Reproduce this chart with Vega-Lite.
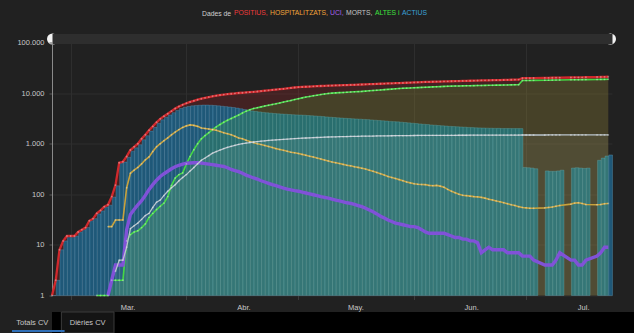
{
  "$schema": "https://vega.github.io/schema/vega-lite/v6.json",
  "background": "#212121",
  "padding": {"left": 12, "top": 9.5, "right": 0, "bottom": 0},
  "config": {
    "font": "Liberation Sans",
    "view": {"stroke": null},
    "axis": {"labelFont": "Liberation Sans"},
    "legend": {"labelFont": "Liberation Sans", "titleFont": "Liberation Sans"}
  },
  "bounds": "flush",
  "spacing": 16.5,
  "datasets": {
    "cv": [
      {"d":"2020-02-25","POSITIUS":1,"ACTIUS":1},
      {"d":"2020-02-26","POSITIUS":2,"ACTIUS":2},
      {"d":"2020-02-27","POSITIUS":8,"ACTIUS":8},
      {"d":"2020-02-28","POSITIUS":12,"ACTIUS":12},
      {"d":"2020-02-29","POSITIUS":15,"ACTIUS":15},
      {"d":"2020-03-01","POSITIUS":15,"ACTIUS":15},
      {"d":"2020-03-02","POSITIUS":15,"ACTIUS":15},
      {"d":"2020-03-03","POSITIUS":18,"ACTIUS":18},
      {"d":"2020-03-04","POSITIUS":20,"ACTIUS":20},
      {"d":"2020-03-05","POSITIUS":22,"ACTIUS":22},
      {"d":"2020-03-06","POSITIUS":30,"ACTIUS":30},
      {"d":"2020-03-07","POSITIUS":33,"ACTIUS":33},
      {"d":"2020-03-08","POSITIUS":42,"ALTES":1,"ACTIUS":41},
      {"d":"2020-03-09","POSITIUS":48,"ALTES":1,"ACTIUS":47},
      {"d":"2020-03-10","POSITIUS":57,"ALTES":1,"ACTIUS":56},
      {"d":"2020-03-11","POSITIUS":62,"HOSPITALITZATS":23,"UCI":1,"ALTES":1,"ACTIUS":61},
      {"d":"2020-03-12","POSITIUS":90,"HOSPITALITZATS":23,"UCI":2,"ALTES":2,"ACTIUS":88},
      {"d":"2020-03-13","POSITIUS":152,"HOSPITALITZATS":31,"UCI":4,"MORTS":3,"ALTES":2,"ACTIUS":147},
      {"d":"2020-03-14","POSITIUS":420,"HOSPITALITZATS":31,"UCI":4,"MORTS":5,"ALTES":2,"ACTIUS":413},
      {"d":"2020-03-15","POSITIUS":440,"HOSPITALITZATS":31,"UCI":4,"MORTS":5,"ALTES":2,"ACTIUS":433},
      {"d":"2020-03-16","POSITIUS":560,"HOSPITALITZATS":135,"UCI":20,"MORTS":9,"ALTES":12,"ACTIUS":539},
      {"d":"2020-03-17","POSITIUS":750,"HOSPITALITZATS":260,"UCI":40,"MORTS":21,"ALTES":16,"ACTIUS":713},
      {"d":"2020-03-18","POSITIUS":870,"HOSPITALITZATS":300,"UCI":50,"MORTS":24,"ALTES":18,"ACTIUS":828},
      {"d":"2020-03-19","POSITIUS":1000,"HOSPITALITZATS":340,"UCI":62,"MORTS":27,"ALTES":19,"ACTIUS":954},
      {"d":"2020-03-20","POSITIUS":1250,"HOSPITALITZATS":400,"UCI":75,"MORTS":32,"ALTES":22,"ACTIUS":1196},
      {"d":"2020-03-21","POSITIUS":1500,"HOSPITALITZATS":480,"UCI":95,"MORTS":38,"ALTES":26,"ACTIUS":1436},
      {"d":"2020-03-22","POSITIUS":1850,"HOSPITALITZATS":550,"UCI":125,"MORTS":42,"ALTES":35,"ACTIUS":1773},
      {"d":"2020-03-23","POSITIUS":2200,"HOSPITALITZATS":700,"UCI":155,"MORTS":55,"ALTES":42,"ACTIUS":2103},
      {"d":"2020-03-24","POSITIUS":2650,"HOSPITALITZATS":870,"UCI":190,"MORTS":70,"ALTES":50,"ACTIUS":2530},
      {"d":"2020-03-25","POSITIUS":3100,"HOSPITALITZATS":1000,"UCI":225,"MORTS":77,"ALTES":58,"ACTIUS":2965},
      {"d":"2020-03-26","POSITIUS":3500,"HOSPITALITZATS":1150,"UCI":255,"MORTS":95,"ALTES":67,"ACTIUS":3338},
      {"d":"2020-03-27","POSITIUS":3900,"HOSPITALITZATS":1300,"UCI":285,"MORTS":115,"ALTES":90,"ACTIUS":3700},
      {"d":"2020-03-28","POSITIUS":4400,"HOSPITALITZATS":1500,"UCI":320,"MORTS":135,"ALTES":150,"ACTIUS":4100},
      {"d":"2020-03-29","POSITIUS":4950,"HOSPITALITZATS":1700,"UCI":350,"MORTS":155,"ALTES":210,"ACTIUS":4550},
      {"d":"2020-03-30","POSITIUS":5450,"HOSPITALITZATS":1900,"UCI":375,"MORTS":185,"ALTES":245,"ACTIUS":4950},
      {"d":"2020-03-31","POSITIUS":5900,"HOSPITALITZATS":2100,"UCI":395,"MORTS":215,"ALTES":265,"ACTIUS":5250},
      {"d":"2020-04-01","POSITIUS":6300,"HOSPITALITZATS":2250,"UCI":410,"MORTS":245,"ALTES":400,"ACTIUS":5450},
      {"d":"2020-04-02","POSITIUS":6700,"HOSPITALITZATS":2350,"UCI":415,"MORTS":290,"ALTES":560,"ACTIUS":5600},
      {"d":"2020-04-03","POSITIUS":7050,"HOSPITALITZATS":2300,"UCI":420,"MORTS":340,"ALTES":760,"ACTIUS":5700},
      {"d":"2020-04-04","POSITIUS":7400,"HOSPITALITZATS":2200,"UCI":420,"MORTS":400,"ALTES":1000,"ACTIUS":5750},
      {"d":"2020-04-05","POSITIUS":7750,"HOSPITALITZATS":2050,"UCI":415,"MORTS":470,"ALTES":1250,"ACTIUS":5800},
      {"d":"2020-04-06","POSITIUS":8050,"HOSPITALITZATS":2000,"UCI":405,"MORTS":520,"ALTES":1450,"ACTIUS":5800},
      {"d":"2020-04-07","POSITIUS":8350,"HOSPITALITZATS":1950,"UCI":395,"MORTS":580,"ALTES":1650,"ACTIUS":5750},
      {"d":"2020-04-08","POSITIUS":8650,"HOSPITALITZATS":1900,"UCI":385,"MORTS":650,"ALTES":1900,"ACTIUS":5700},
      {"d":"2020-04-09","POSITIUS":8900,"HOSPITALITZATS":1850,"UCI":375,"MORTS":700,"ALTES":2150,"ACTIUS":5600},
      {"d":"2020-04-10","POSITIUS":9150,"HOSPITALITZATS":1750,"UCI":365,"MORTS":750,"ALTES":2400,"ACTIUS":5500},
      {"d":"2020-04-11","POSITIUS":9350,"HOSPITALITZATS":1650,"UCI":355,"MORTS":800,"ALTES":2650,"ACTIUS":5400},
      {"d":"2020-04-12","POSITIUS":9550,"HOSPITALITZATS":1580,"UCI":335,"MORTS":850,"ALTES":2900,"ACTIUS":5300},
      {"d":"2020-04-13","POSITIUS":9700,"HOSPITALITZATS":1500,"UCI":310,"MORTS":890,"ALTES":3150,"ACTIUS":5200},
      {"d":"2020-04-14","POSITIUS":9850,"HOSPITALITZATS":1400,"UCI":295,"MORTS":930,"ALTES":3400,"ACTIUS":5050},
      {"d":"2020-04-15","POSITIUS":10050,"HOSPITALITZATS":1300,"UCI":280,"MORTS":970,"ALTES":3700,"ACTIUS":4900},
      {"d":"2020-04-16","POSITIUS":10150,"HOSPITALITZATS":1250,"UCI":260,"MORTS":1000,"ALTES":4050,"ACTIUS":4750},
      {"d":"2020-04-17","POSITIUS":10300,"HOSPITALITZATS":1170,"UCI":240,"MORTS":1030,"ALTES":4400,"ACTIUS":4600},
      {"d":"2020-04-18","POSITIUS":10450,"HOSPITALITZATS":1100,"UCI":225,"MORTS":1055,"ALTES":4700,"ACTIUS":4450},
      {"d":"2020-04-19","POSITIUS":10600,"HOSPITALITZATS":1050,"UCI":210,"MORTS":1080,"ALTES":4950,"ACTIUS":4350},
      {"d":"2020-04-20","POSITIUS":10750,"HOSPITALITZATS":1000,"UCI":200,"MORTS":1100,"ALTES":5150,"ACTIUS":4250},
      {"d":"2020-04-21","POSITIUS":10950,"HOSPITALITZATS":960,"UCI":185,"MORTS":1120,"ALTES":5350,"ACTIUS":4150},
      {"d":"2020-04-22","POSITIUS":11150,"HOSPITALITZATS":920,"UCI":175,"MORTS":1140,"ALTES":5550,"ACTIUS":4080},
      {"d":"2020-04-23","POSITIUS":11350,"HOSPITALITZATS":880,"UCI":165,"MORTS":1160,"ALTES":5750,"ACTIUS":4020},
      {"d":"2020-04-24","POSITIUS":11550,"HOSPITALITZATS":840,"UCI":155,"MORTS":1175,"ALTES":5950,"ACTIUS":3960},
      {"d":"2020-04-25","POSITIUS":11750,"HOSPITALITZATS":800,"UCI":148,"MORTS":1190,"ALTES":6150,"ACTIUS":3900},
      {"d":"2020-04-26","POSITIUS":11950,"HOSPITALITZATS":770,"UCI":140,"MORTS":1205,"ALTES":6400,"ACTIUS":3860},
      {"d":"2020-04-27","POSITIUS":12150,"HOSPITALITZATS":740,"UCI":133,"MORTS":1220,"ALTES":6650,"ACTIUS":3820},
      {"d":"2020-04-28","POSITIUS":12400,"HOSPITALITZATS":710,"UCI":127,"MORTS":1235,"ALTES":6900,"ACTIUS":3780},
      {"d":"2020-04-29","POSITIUS":12650,"HOSPITALITZATS":680,"UCI":122,"MORTS":1250,"ALTES":7150,"ACTIUS":3740},
      {"d":"2020-04-30","POSITIUS":12900,"HOSPITALITZATS":660,"UCI":118,"MORTS":1262,"ALTES":7450,"ACTIUS":3700},
      {"d":"2020-05-01","POSITIUS":13100,"HOSPITALITZATS":640,"UCI":115,"MORTS":1275,"ALTES":7750,"ACTIUS":3680},
      {"d":"2020-05-02","POSITIUS":13230,"HOSPITALITZATS":615,"UCI":110,"MORTS":1285,"ALTES":8050,"ACTIUS":3650},
      {"d":"2020-05-03","POSITIUS":13350,"HOSPITALITZATS":590,"UCI":106,"MORTS":1295,"ALTES":8350,"ACTIUS":3610},
      {"d":"2020-05-04","POSITIUS":13480,"HOSPITALITZATS":565,"UCI":102,"MORTS":1305,"ALTES":8600,"ACTIUS":3570},
      {"d":"2020-05-05","POSITIUS":13600,"HOSPITALITZATS":545,"UCI":98,"MORTS":1315,"ALTES":8850,"ACTIUS":3520},
      {"d":"2020-05-06","POSITIUS":13700,"HOSPITALITZATS":520,"UCI":94,"MORTS":1325,"ALTES":9100,"ACTIUS":3480},
      {"d":"2020-05-07","POSITIUS":13800,"HOSPITALITZATS":500,"UCI":90,"MORTS":1335,"ALTES":9350,"ACTIUS":3430},
      {"d":"2020-05-08","POSITIUS":13900,"HOSPITALITZATS":475,"UCI":87,"MORTS":1345,"ALTES":9600,"ACTIUS":3380},
      {"d":"2020-05-09","POSITIUS":14000,"HOSPITALITZATS":455,"UCI":84,"MORTS":1355,"ALTES":9850,"ACTIUS":3330},
      {"d":"2020-05-10","POSITIUS":14100,"HOSPITALITZATS":435,"UCI":80,"MORTS":1362,"ALTES":10000,"ACTIUS":3290},
      {"d":"2020-05-11","POSITIUS":14180,"HOSPITALITZATS":420,"UCI":77,"MORTS":1368,"ALTES":10100,"ACTIUS":3250},
      {"d":"2020-05-12","POSITIUS":14260,"HOSPITALITZATS":405,"UCI":74,"MORTS":1374,"ALTES":10200,"ACTIUS":3210},
      {"d":"2020-05-13","POSITIUS":14340,"HOSPITALITZATS":390,"UCI":71,"MORTS":1380,"ALTES":10300,"ACTIUS":3170},
      {"d":"2020-05-14","POSITIUS":14420,"HOSPITALITZATS":375,"UCI":68,"MORTS":1386,"ALTES":10400,"ACTIUS":3140},
      {"d":"2020-05-15","POSITIUS":14500,"HOSPITALITZATS":365,"UCI":66,"MORTS":1392,"ALTES":10500,"ACTIUS":3110},
      {"d":"2020-05-16","POSITIUS":14600,"HOSPITALITZATS":350,"UCI":63,"MORTS":1397,"ALTES":10600,"ACTIUS":3080},
      {"d":"2020-05-17","POSITIUS":14700,"HOSPITALITZATS":340,"UCI":60,"MORTS":1402,"ALTES":10700,"ACTIUS":3050},
      {"d":"2020-05-18","POSITIUS":14800,"HOSPITALITZATS":328,"UCI":57,"MORTS":1406,"ALTES":10800,"ACTIUS":3020},
      {"d":"2020-05-19","POSITIUS":14900,"HOSPITALITZATS":315,"UCI":53,"MORTS":1410,"ALTES":10950,"ACTIUS":2990},
      {"d":"2020-05-20","POSITIUS":15000,"HOSPITALITZATS":300,"UCI":49,"MORTS":1414,"ALTES":11100,"ACTIUS":2950},
      {"d":"2020-05-21","POSITIUS":15100,"HOSPITALITZATS":285,"UCI":45,"MORTS":1418,"ALTES":11250,"ACTIUS":2910},
      {"d":"2020-05-22","POSITIUS":15200,"HOSPITALITZATS":270,"UCI":41,"MORTS":1422,"ALTES":11400,"ACTIUS":2880},
      {"d":"2020-05-23","POSITIUS":15300,"HOSPITALITZATS":255,"UCI":37,"MORTS":1426,"ALTES":11550,"ACTIUS":2840},
      {"d":"2020-05-24","POSITIUS":15400,"HOSPITALITZATS":240,"UCI":34,"MORTS":1429,"ALTES":11700,"ACTIUS":2800},
      {"d":"2020-05-25","POSITIUS":15500,"HOSPITALITZATS":225,"UCI":31,"MORTS":1432,"ALTES":11850,"ACTIUS":2760},
      {"d":"2020-05-26","POSITIUS":15600,"HOSPITALITZATS":215,"UCI":29,"MORTS":1435,"ALTES":12000,"ACTIUS":2730},
      {"d":"2020-05-27","POSITIUS":15700,"HOSPITALITZATS":205,"UCI":27,"MORTS":1438,"ALTES":12150,"ACTIUS":2700},
      {"d":"2020-05-28","POSITIUS":15800,"HOSPITALITZATS":195,"UCI":26,"MORTS":1441,"ALTES":12300,"ACTIUS":2660},
      {"d":"2020-05-29","POSITIUS":15900,"HOSPITALITZATS":185,"UCI":25,"MORTS":1444,"ALTES":12450,"ACTIUS":2620},
      {"d":"2020-05-30","POSITIUS":16000,"HOSPITALITZATS":175,"UCI":24,"MORTS":1447,"ALTES":12550,"ACTIUS":2580},
      {"d":"2020-05-31","POSITIUS":16120,"HOSPITALITZATS":168,"UCI":23,"MORTS":1450,"ALTES":12650,"ACTIUS":2540},
      {"d":"2020-06-01","POSITIUS":16240,"HOSPITALITZATS":162,"UCI":23,"MORTS":1452,"ALTES":12750,"ACTIUS":2500},
      {"d":"2020-06-02","POSITIUS":16360,"HOSPITALITZATS":158,"UCI":22,"MORTS":1454,"ALTES":12850,"ACTIUS":2460},
      {"d":"2020-06-03","POSITIUS":16480,"HOSPITALITZATS":156,"UCI":20,"MORTS":1456,"ALTES":12950,"ACTIUS":2420},
      {"d":"2020-06-04","POSITIUS":16600,"HOSPITALITZATS":155,"UCI":18,"MORTS":1458,"ALTES":13050,"ACTIUS":2390},
      {"d":"2020-06-05","POSITIUS":16680,"HOSPITALITZATS":150,"UCI":17,"MORTS":1460,"ALTES":13150,"ACTIUS":2350},
      {"d":"2020-06-06","POSITIUS":16760,"HOSPITALITZATS":148,"UCI":17,"MORTS":1461,"ALTES":13250,"ACTIUS":2320},
      {"d":"2020-06-07","POSITIUS":16840,"HOSPITALITZATS":150,"UCI":17,"MORTS":1462,"ALTES":13350,"ACTIUS":2290},
      {"d":"2020-06-08","POSITIUS":16920,"HOSPITALITZATS":145,"UCI":17,"MORTS":1463,"ALTES":13450,"ACTIUS":2260},
      {"d":"2020-06-09","POSITIUS":17000,"HOSPITALITZATS":138,"UCI":17,"MORTS":1464,"ALTES":13550,"ACTIUS":2230},
      {"d":"2020-06-10","POSITIUS":17080,"HOSPITALITZATS":125,"UCI":16,"MORTS":1465,"ALTES":13650,"ACTIUS":2200},
      {"d":"2020-06-11","POSITIUS":17160,"HOSPITALITZATS":115,"UCI":15,"MORTS":1466,"ALTES":13750,"ACTIUS":2180},
      {"d":"2020-06-12","POSITIUS":17240,"HOSPITALITZATS":107,"UCI":14,"MORTS":1467,"ALTES":13800,"ACTIUS":2160},
      {"d":"2020-06-13","POSITIUS":17320,"HOSPITALITZATS":100,"UCI":14,"MORTS":1468,"ALTES":13850,"ACTIUS":2140},
      {"d":"2020-06-14","POSITIUS":17400,"HOSPITALITZATS":96,"UCI":13,"MORTS":1469,"ALTES":13900,"ACTIUS":2120},
      {"d":"2020-06-15","POSITIUS":17480,"HOSPITALITZATS":94,"UCI":13,"MORTS":1470,"ALTES":13950,"ACTIUS":2100},
      {"d":"2020-06-16","POSITIUS":17560,"HOSPITALITZATS":92,"UCI":12,"MORTS":1471,"ALTES":14000,"ACTIUS":2080},
      {"d":"2020-06-17","POSITIUS":17640,"HOSPITALITZATS":90,"UCI":12,"MORTS":1472,"ALTES":14050,"ACTIUS":2060},
      {"d":"2020-06-18","POSITIUS":17720,"HOSPITALITZATS":89,"UCI":11,"MORTS":1473,"ALTES":14100,"ACTIUS":2050},
      {"d":"2020-06-19","POSITIUS":17800,"HOSPITALITZATS":87,"UCI":7,"MORTS":1474,"ALTES":14150,"ACTIUS":2040},
      {"d":"2020-06-20","POSITIUS":17860,"HOSPITALITZATS":84,"UCI":8,"MORTS":1475,"ALTES":14200,"ACTIUS":2030},
      {"d":"2020-06-21","POSITIUS":17920,"HOSPITALITZATS":80,"UCI":9,"MORTS":1476,"ALTES":14250,"ACTIUS":2020},
      {"d":"2020-06-22","POSITIUS":17980,"HOSPITALITZATS":77,"UCI":8,"MORTS":1477,"ALTES":14300,"ACTIUS":2010},
      {"d":"2020-06-23","POSITIUS":18040,"HOSPITALITZATS":74,"UCI":8,"MORTS":1478,"ALTES":14350,"ACTIUS":2010},
      {"d":"2020-06-24","POSITIUS":18100,"HOSPITALITZATS":71,"UCI":8,"MORTS":1479,"ALTES":14400,"ACTIUS":2000},
      {"d":"2020-06-25","POSITIUS":18180,"HOSPITALITZATS":68,"UCI":8,"MORTS":1480,"ALTES":14450,"ACTIUS":2000},
      {"d":"2020-06-26","POSITIUS":18260,"HOSPITALITZATS":65,"UCI":7,"MORTS":1481,"ALTES":14500,"ACTIUS":2000},
      {"d":"2020-06-27","POSITIUS":18340,"HOSPITALITZATS":62,"UCI":7,"MORTS":1482,"ALTES":14550,"ACTIUS":1990},
      {"d":"2020-06-28","POSITIUS":18420,"HOSPITALITZATS":60,"UCI":7,"MORTS":1483,"ALTES":14600,"ACTIUS":1990},
      {"d":"2020-06-29","POSITIUS":18500,"HOSPITALITZATS":57,"UCI":7,"MORTS":1484,"ALTES":14650,"ACTIUS":1990},
      {"d":"2020-06-30","POSITIUS":19700,"HOSPITALITZATS":55,"UCI":6,"MORTS":1485,"ALTES":17700,"ACTIUS":340},
      {"d":"2020-07-01","POSITIUS":19750,"HOSPITALITZATS":54,"UCI":6,"MORTS":1486,"ALTES":17750,"ACTIUS":335},
      {"d":"2020-07-02","POSITIUS":19800,"HOSPITALITZATS":53,"UCI":6,"MORTS":1486,"ALTES":17800,"ACTIUS":330},
      {"d":"2020-07-03","POSITIUS":19850,"HOSPITALITZATS":53,"UCI":5,"MORTS":1487,"ALTES":17850,"ACTIUS":320},
      {"d":"2020-07-06","POSITIUS":20000,"HOSPITALITZATS":54,"UCI":4,"MORTS":1487,"ALTES":17950,"ACTIUS":290},
      {"d":"2020-07-07","POSITIUS":20050,"HOSPITALITZATS":55,"UCI":4,"MORTS":1488,"ALTES":18000,"ACTIUS":285},
      {"d":"2020-07-08","POSITIUS":20100,"HOSPITALITZATS":56,"UCI":4,"MORTS":1488,"ALTES":18050,"ACTIUS":285},
      {"d":"2020-07-09","POSITIUS":20150,"HOSPITALITZATS":58,"UCI":5,"MORTS":1488,"ALTES":18100,"ACTIUS":290},
      {"d":"2020-07-10","POSITIUS":20200,"HOSPITALITZATS":60,"UCI":7,"MORTS":1489,"ALTES":18150,"ACTIUS":300},
      {"d":"2020-07-13","POSITIUS":20350,"HOSPITALITZATS":64,"UCI":5,"MORTS":1489,"ALTES":18300,"ACTIUS":330},
      {"d":"2020-07-14","POSITIUS":20400,"HOSPITALITZATS":67,"UCI":5,"MORTS":1489,"ALTES":18350,"ACTIUS":335},
      {"d":"2020-07-15","POSITIUS":20450,"HOSPITALITZATS":68,"UCI":4,"MORTS":1490,"ALTES":18400,"ACTIUS":330},
      {"d":"2020-07-16","POSITIUS":20500,"HOSPITALITZATS":66,"UCI":4,"MORTS":1490,"ALTES":18450,"ACTIUS":325},
      {"d":"2020-07-17","POSITIUS":20550,"HOSPITALITZATS":63,"UCI":5,"MORTS":1490,"ALTES":18500,"ACTIUS":330},
      {"d":"2020-07-20","POSITIUS":20750,"HOSPITALITZATS":62,"UCI":6,"MORTS":1490,"ALTES":18600,"ACTIUS":470},
      {"d":"2020-07-21","POSITIUS":20850,"HOSPITALITZATS":63,"UCI":7,"MORTS":1491,"ALTES":18650,"ACTIUS":520},
      {"d":"2020-07-22","POSITIUS":20950,"HOSPITALITZATS":65,"UCI":9,"MORTS":1491,"ALTES":18700,"ACTIUS":570},
      {"d":"2020-07-23","POSITIUS":21050,"HOSPITALITZATS":66,"UCI":9,"MORTS":1492,"ALTES":18750,"ACTIUS":600}
    ]
  },
  "vconcat": [
    {
      "width": 560,
      "height": 253,
      "data": {"name": "cv"},
      "resolve": {"axis": {"x": "independent", "y": "independent"}},
      "layer": [
        {
          "mark": {"type": "area", "color": "#c0262c", "opacity": 0.21},
          "encoding": {
            "x": {
              "field": "d", "type": "temporal",
              "scale": {"type": "utc", "domain": [{"year": 2020, "month": 2, "date": 25, "utc": true}, {"year": 2020, "month": 7, "date": 24, "utc": true}]},
              "axis": {
                "orient": "top", "title": null, "labels": false, "grid": false,
                "values": [{"year": 2020, "month": 2, "date": 25, "utc": true}, {"year": 2020, "month": 7, "date": 23, "hours": 12, "utc": true}],
                "domain": true, "domainColor": "#2e2e2e", "domainWidth": 10, "offset": 4,
                "ticks": true, "tickColor": "#f2f2f2", "tickWidth": 11, "tickSize": 0.1, "tickCap": "round"
              }
            },
            "y": {
              "field": "POSITIUS", "type": "quantitative",
              "scale": {"type": "log", "domain": [1, 100000], "nice": false},
              "axis": null
            },
            "y2": {"datum": 1}
          }
        },
        {
          "mark": {"type": "bar", "color": "#1f5878", "stroke": "#6fb0d0", "strokeWidth": 0.6, "strokeOpacity": 0.5, "binSpacing": 0},
          "encoding": {
            "x": {
              "field": "d", "type": "temporal", "timeUnit": "utcyearmonthdate",
              "axis": {
                "orient": "bottom", "title": null,
                "values": [{"year": 2020, "month": 3, "date": 1, "utc": true}, {"year": 2020, "month": 4, "date": 1, "utc": true}, {"year": 2020, "month": 5, "date": 1, "utc": true}, {"year": 2020, "month": 6, "date": 1, "utc": true}, {"year": 2020, "month": 7, "date": 1, "utc": true}],
                "labelExpr": "['Gen.','Feb.','Mar.','Abr.','May.','Jun.','Jul.','Ago.'][utcmonth(datum.value)]",
                "labelOffset": 57, "labelFlush": false, "labelOverlap": false,
                "labelColor": "#c9c9c9", "labelFontSize": 7.5, "labelPadding": 4,
                "grid": true, "gridColor": "#2e2e2e",
                "ticks": true, "tickColor": "#3c3c3c", "tickSize": 4,
                "domain": false
              }
            },
            "y": {
              "field": "ACTIUS", "type": "quantitative",
              "axis": {
                "orient": "left", "title": null, "values": [1, 10, 100, 1000, 10000, 100000],
                "labelExpr": "datum.value >= 100000 ? '100.000' : datum.value >= 10000 ? '10.000' : datum.value >= 1000 ? '1.000' : datum.value >= 100 ? '100' : datum.value >= 10 ? '10' : '1'",
                "labelColor": "#c9c9c9", "labelFontSize": 7.5, "labelPadding": 5, "labelFlush": false,
                "grid": true, "gridColor": "#2e2e2e",
                "domain": true, "domainColor": "#8a8a8a",
                "ticks": true, "tickSize": 3, "tickColor": "#5a5a5a"
              }
            },
            "y2": {"datum": 1}
          }
        },
        {
          "transform": [{"filter": "isValid(datum.ALTES)"}],
          "mark": {"type": "area", "color": "#5ad040", "opacity": 0.18},
          "encoding": {
            "x": {"field": "d", "type": "temporal", "axis": null},
            "y": {"field": "ALTES", "type": "quantitative", "axis": null},
            "y2": {"datum": 1}
          }
        },
        {
          "transform": [{"filter": "isValid(datum.MORTS)"}],
          "mark": {"type": "area", "color": "#ffffff", "opacity": 0.06},
          "encoding": {
            "x": {"field": "d", "type": "temporal", "axis": null},
            "y": {"field": "MORTS", "type": "quantitative", "axis": null},
            "y2": {"datum": 1}
          }
        },
        {
          "transform": [
            {"fold": ["POSITIUS", "HOSPITALITZATS", "UCI", "MORTS", "ALTES"], "as": ["serie", "valor"]},
            {"filter": "isValid(datum.valor) && datum.valor > 0"}
          ],
          "mark": {"type": "line"},
          "encoding": {
            "x": {"field": "d", "type": "temporal", "axis": null},
            "y": {"field": "valor", "type": "quantitative", "axis": null},
            "color": {
              "field": "serie", "type": "nominal",
              "scale": {
                "domain": ["POSITIUS", "HOSPITALITZATS", "UCI", "MORTS", "ALTES", "ACTIUS"],
                "range": ["#d0282c", "#c8a23c", "#8052d8", "#b9c4cc", "#45d845", "#2e9fd4"]
              },
              "legend": {
                "orient": "none", "legendX": 150, "legendY": -33, "direction": "horizontal", "padding": 0,
                "title": "Dades de", "titleOrient": "left", "titleColor": "#d0d0d0", "titleFontSize": 6.8,
                "titleFontWeight": "normal", "titlePadding": 0, "titleBaseline": "middle",
                "labelFontSize": 6.8, "labelOffset": -4.8, "columnPadding": 0,
                "labelExpr": "datum.label == 'ACTIUS' ? 'ACTIUS' : datum.label == 'ALTES' ? 'ALTES i' : datum.label + ','",
                "labelColor": {"expr": "datum.value == 'POSITIUS' ? '#ee3b3b' : datum.value == 'HOSPITALITZATS' ? '#f2a33a' : datum.value == 'UCI' ? '#a860e8' : datum.value == 'MORTS' ? '#c4c4c4' : datum.value == 'ALTES' ? '#3fe23f' : '#3aa2dc'"},
                "symbolSize": 0.01, "symbolOpacity": 0, "symbolStrokeWidth": 0, "symbolType": "circle"
              }
            },
            "strokeWidth": {
              "condition": [
                {"test": "datum.serie == 'UCI'", "value": 3.4},
                {"test": "datum.serie == 'POSITIUS'", "value": 2.3},
                {"test": "datum.serie == 'MORTS'", "value": 1.3}
              ],
              "value": 1.6
            }
          }
        },
        {
          "transform": [
            {"fold": ["POSITIUS", "HOSPITALITZATS", "MORTS", "ALTES"], "as": ["serie", "valor"]},
            {"filter": "isValid(datum.valor) && datum.valor > 0"}
          ],
          "mark": {"type": "circle", "size": 3.5, "color": "#ffffff", "opacity": 0.35},
          "encoding": {
            "x": {"field": "d", "type": "temporal", "axis": null},
            "y": {"field": "valor", "type": "quantitative", "axis": null}
          }
        }
      ]
    },
    {
      "width": 582,
      "height": 21,
      "view": {"fill": "#000000", "stroke": null},
      "data": {"values": [{"pestanya": "Totals CV"}, {"pestanya": "Dièries CV"}]},
      "encoding": {
        "x": {
          "field": "pestanya", "type": "nominal", "sort": null, "axis": null,
          "scale": {"type": "band", "domain": ["Totals CV", "Dièries CV"], "range": [-46, 62], "paddingInner": 0.05, "paddingOuter": 0}
        }
      },
      "layer": [
        {
          "transform": [{"filter": "datum.pestanya == 'Dièries CV'"}],
          "mark": {"type": "rect", "fill": "#141414", "stroke": "#3b3b3b", "strokeWidth": 1}
        },
        {
          "transform": [{"filter": "datum.pestanya == 'Totals CV'"}],
          "mark": {"type": "tick", "orient": "horizontal", "thickness": 2, "bandSize": 46, "color": "#2f6fb8", "xOffset": 6, "yOffset": 8.5, "opacity": 1}
        },
        {
          "mark": {"type": "text", "fontSize": 7.5, "color": "#c8c8c8"},
          "encoding": {"text": {"field": "pestanya"}}
        }
      ]
    }
  ]
}
